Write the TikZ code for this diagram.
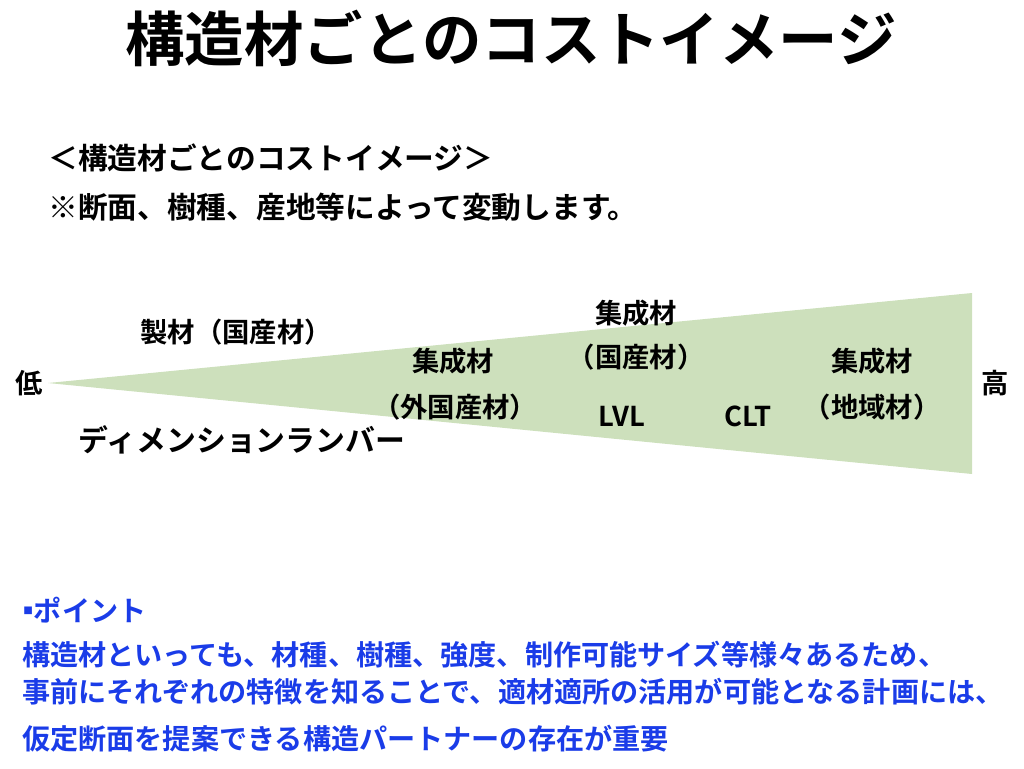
\documentclass[tikz,border=0pt]{standalone}
\usepackage{fontspec}
\setmainfont{Noto Sans CJK JP}[BoldFont={* Bold}]
\definecolor{trigreen}{RGB}{205,224,188}
\definecolor{ptblue}{RGB}{26,60,232}
\begin{document}
\begin{tikzpicture}[x=0.75pt,y=-0.75pt,
  title/.style={font=\fontsize{44.6}{48}\selectfont\bfseries,inner sep=0},
  sub/.style={font=\fontsize{22.3}{26}\selectfont\bfseries,inner sep=0,anchor=west},
  lbl/.style={font=\fontsize{20.5}{24}\selectfont\bfseries,inner sep=0},
  pt/.style={font=\fontsize{21.1}{24}\selectfont\bfseries,inner sep=0,anchor=west,text=ptblue}]
\useasboundingbox (0,0) rectangle (1024,768);
\fill[trigreen] (48,383) -- (972,293) -- (972,474) -- cycle;
\node[title] (t) at (511,38) {構造材ごとのコストイメージ};
\node[sub] (s1) at (48,158) {＜構造材ごとのコストイメージ＞};
\node[sub] (s2) at (48,207) {※断面、樹種、産地等によって変動します。};
\node[lbl] (low) at (29,383) {低};
\node[lbl] (high) at (995,383) {高};
\node[lbl] (seizai) at (236,332) {製材（国産材）};
\node[lbl,font=\fontsize{22.4}{26}\selectfont\bfseries] (dim) at (242,440) {ディメンションランバー};
\node[lbl] (g1a) at (453,361) {集成材};
\node[lbl] (g1b) at (455,407) {（外国産材）};
\node[lbl] (g2a) at (636,313) {集成材};
\node[lbl] (g2b) at (636,357) {（国産材）};
\node[lbl] (lvl) at (622,416) {LVL};
\node[lbl] (clt) at (748,416) {CLT};
\node[lbl] (g3a) at (872,361) {集成材};
\node[lbl] (g3b) at (872,407) {（地域材）};
\node[pt] (p0) at (14,610) {▪\kern-0.3em ポイント};
\node[pt] (p1) at (22,655) {構造材といっても、材種、樹種、強度、制作可能サイズ等様々あるため、};
\node[pt] (p2) at (22,692) {事前にそれぞれの特徴を知ることで、適材適所の活用が可能となる計画には、};
\node[pt] (p3) at (22,739) {仮定断面を提案できる構造パートナーの存在が重要};
\end{tikzpicture}
\end{document}
